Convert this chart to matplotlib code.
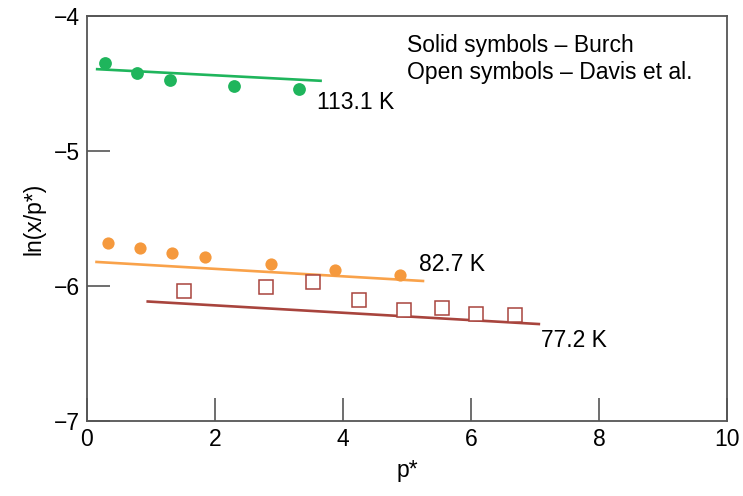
import matplotlib
matplotlib.use("Agg")
import matplotlib.pyplot as plt

plt.rcParams['font.family'] = ['Liberation Sans', 'DejaVu Sans']

# 113.1 K - Burch (solid)
x_113 = [0.28, 0.79, 1.29, 2.29, 3.31]
y_113 = [-4.35, -4.42, -4.47, -4.52, -4.54]
fit_113_x = [0.16, 3.65]
fit_113_y = [-4.393, -4.479]

# 82.7 K - Burch (solid)
x_83 = [0.33, 0.83, 1.33, 1.85, 2.87, 3.88, 4.89]
y_83 = [-5.68, -5.72, -5.755, -5.785, -5.835, -5.878, -5.919]
fit_83_x = [0.15, 5.25]
fit_83_y = [-5.821, -5.962]

# 77.2 K - Davis et al. (open)
x_77 = [1.52, 2.80, 3.53, 4.25, 4.96, 5.55, 6.08, 6.68]
y_77 = [-6.037, -6.003, -5.971, -6.102, -6.178, -6.162, -6.210, -6.212]
fit_77_x = [0.95, 7.06]
fit_77_y = [-6.114, -6.281]

green = '#1fb55c'
orange = '#f5993d'
orange_line = '#f9a24a'
brown = '#a8443d'

fig = plt.figure(figsize=(7.43, 4.96), dpi=100)
ax = fig.add_axes([0.117, 0.151, 0.8615, 0.8165])

ax.plot(fit_113_x, fit_113_y, color=green, lw=1.9)
ax.plot(x_113, y_113, 'o', color=green, ms=9.2, mec='none')

ax.plot(fit_83_x, fit_83_y, color=orange_line, lw=1.9)
ax.plot(x_83, y_83, 'o', color=orange, ms=8.8, mec='none')

ax.plot(fit_77_x, fit_77_y, color=brown, lw=1.9)
ax.plot(x_77, y_77, 's', mfc='white', mec=brown, ms=9.5, mew=1.1)

fs = 16.5
ax.text(3.59, -4.64, '113.1 K', fontsize=fs, va='center', ha='left')
ax.text(5.19, -5.84, '82.7 K', fontsize=fs, va='center', ha='left')
ax.text(7.09, -6.40, '77.2 K', fontsize=fs, va='center', ha='left')

ax.text(5.0, -4.22, 'Solid symbols \u2013 Burch', fontsize=fs, va='center', ha='left')
ax.text(5.0, -4.42, 'Open symbols \u2013 Davis et al.', fontsize=fs, va='center', ha='left')

ax.set_xlim(0, 10)
ax.set_ylim(-7, -4)
ax.set_xticks([0, 2, 4, 6, 8, 10])
ax.set_yticks([-7, -6, -5, -4])
ax.set_yticklabels(['\u22127', '\u22126', '\u22125', '\u22124'])

for s in ax.spines.values():
    s.set_color('#555555')
    s.set_linewidth(1.3)
ax.tick_params(direction='in', length=16.5, width=1.2, color='#555555',
               labelsize=fs, pad=5)

ax.set_xlabel('p*', fontsize=fs, labelpad=6)
ax.set_ylabel('ln(x/p*)', fontsize=fs, labelpad=6)

fig.savefig('out.png', dpi=100)
